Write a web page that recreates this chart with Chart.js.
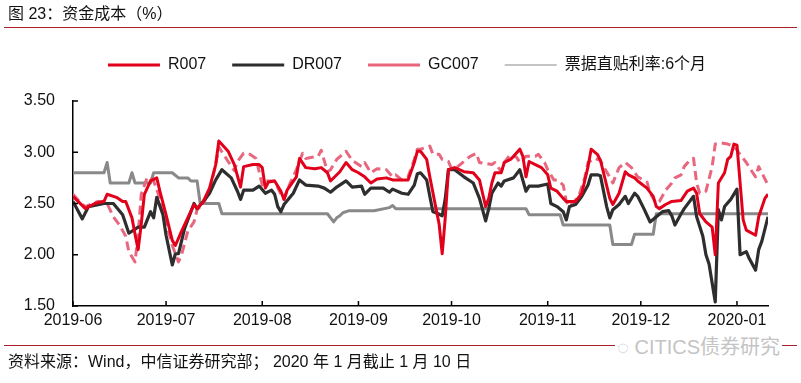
<!DOCTYPE html>
<html><head><meta charset="utf-8">
<script src="https://cdn.jsdelivr.net/npm/chart.js@4/dist/chart.umd.min.js"></script>
<style>
html,body{margin:0;padding:0;background:#fff;}
#wrap{position:relative;width:801px;height:383px;overflow:hidden;font-family:"Liberation Sans","Noto Sans CJK SC",sans-serif;color:#111;}
#title{position:absolute;left:8px;top:5px;font-size:16px;line-height:18px;white-space:nowrap;}
#tline{position:absolute;left:4px;width:793px;top:27px;height:0;border-top:1.5px solid #a8212b;}
#fline{position:absolute;left:4px;width:793px;top:345px;height:0;border-top:1.5px solid #a8212b;}
#foot{position:absolute;left:8px;top:353px;font-size:16px;line-height:18px;white-space:nowrap;}
#wm{position:absolute;left:615px;top:336px;font-size:20px;line-height:22px;color:#c4c4c4;background:#fff;padding:0 2px;white-space:nowrap;}
#c{position:absolute;left:0;top:0;}
</style></head>
<body>
<div id="wrap">
<canvas id="c" width="801" height="383"></canvas>
<div id="title">图 23：资金成本（%）</div>
<div id="tline"></div>
<div id="fline"></div>
<div id="wm">◌ CITICS债券研究</div>
<div id="foot">资料来源：Wind，中信证券研究部； 2020 年 1 月截止 1 月 10 日</div>
</div>
<script>
const seriesNames = ['R007','DR007','GC007','票据直贴利率:6个月'];
const monthTicks = ['2019-06','2019-07','2019-08','2019-09','2019-10','2019-11','2019-12','2020-01'];
const yTicks = [1.5,2.0,2.5,3.0,3.5];

const r007Dates = ['2019-06-01','2019-06-05','2019-06-08','2019-06-11','2019-06-12','2019-06-15','2019-06-17','2019-06-18','2019-06-20','2019-06-21','2019-06-22','2019-06-23','2019-06-24','2019-06-26','2019-06-28','2019-06-29','2019-07-01','2019-07-03','2019-07-04','2019-07-06','2019-07-08','2019-07-10','2019-07-11','2019-07-13','2019-07-15','2019-07-17','2019-07-18','2019-07-21','2019-07-23','2019-07-25','2019-07-26','2019-07-29','2019-07-31','2019-08-01','2019-08-02','2019-08-03','2019-08-05','2019-08-07','2019-08-08','2019-08-09','2019-08-12','2019-08-13','2019-08-15','2019-08-18','2019-08-20','2019-08-22','2019-08-23','2019-08-26','2019-08-28','2019-08-30','2019-09-01','2019-09-03','2019-09-05','2019-09-07','2019-09-10','2019-09-12','2019-09-14','2019-09-17','2019-09-19','2019-09-20','2019-09-21','2019-09-23','2019-09-24','2019-09-26','2019-09-27','2019-09-28','2019-09-29','2019-09-30','2019-10-02','2019-10-05','2019-10-08','2019-10-10','2019-10-11','2019-10-12','2019-10-13','2019-10-14','2019-10-15','2019-10-17','2019-10-18','2019-10-20','2019-10-21','2019-10-23','2019-10-24','2019-10-25','2019-10-26','2019-10-28','2019-10-30','2019-11-01','2019-11-02','2019-11-04','2019-11-06','2019-11-07','2019-11-10','2019-11-12','2019-11-14','2019-11-15','2019-11-17','2019-11-18','2019-11-19','2019-11-21','2019-11-22','2019-11-24','2019-11-26','2019-11-27','2019-11-29','2019-11-30','2019-12-03','2019-12-05','2019-12-06','2019-12-07','2019-12-09','2019-12-11','2019-12-14','2019-12-16','2019-12-18','2019-12-19','2019-12-20','2019-12-22','2019-12-24','2019-12-25','2019-12-26','2019-12-28','2019-12-29','2019-12-30','2019-12-31','2020-01-01','2020-01-03','2020-01-04','2020-01-07','2020-01-08','2020-01-10','2020-01-11'];
const r007Values = [2.57,2.45,2.50,2.52,2.59,2.56,2.52,2.52,2.36,2.20,2.05,2.30,2.59,2.72,2.75,2.62,2.39,2.14,2.09,2.23,2.36,2.49,2.45,2.52,2.65,2.88,3.11,3.01,2.88,2.66,2.86,2.88,2.88,2.85,2.65,2.71,2.72,2.62,2.54,2.63,2.76,2.94,2.85,2.84,2.85,2.80,2.72,2.81,2.90,2.83,2.80,2.76,2.70,2.74,2.75,2.73,2.73,2.73,2.90,3.01,3.01,2.93,2.76,2.45,2.30,2.01,2.37,2.83,2.85,2.81,2.80,2.73,2.60,2.47,2.55,2.70,2.80,2.80,2.90,2.93,2.96,3.03,2.96,2.76,2.91,2.88,2.85,2.78,2.65,2.62,2.55,2.52,2.52,2.60,2.86,3.03,2.98,2.92,2.80,2.55,2.49,2.60,2.81,2.78,2.75,2.72,2.65,2.57,2.47,2.45,2.49,2.52,2.53,2.62,2.65,2.60,2.40,2.32,2.27,2.00,2.70,2.80,2.93,2.96,3.08,3.07,2.34,2.24,2.19,2.37,2.55,2.59];

const dr007Dates = ['2019-06-01','2019-06-04','2019-06-06','2019-06-11','2019-06-14','2019-06-17','2019-06-19','2019-06-22','2019-06-24','2019-06-26','2019-06-27','2019-06-28','2019-06-30','2019-07-01','2019-07-03','2019-07-04','2019-07-05','2019-07-07','2019-07-10','2019-07-11','2019-07-13','2019-07-15','2019-07-17','2019-07-19','2019-07-22','2019-07-24','2019-07-25','2019-07-26','2019-07-29','2019-07-31','2019-08-02','2019-08-04','2019-08-05','2019-08-06','2019-08-07','2019-08-08','2019-08-11','2019-08-13','2019-08-15','2019-08-19','2019-08-21','2019-08-23','2019-08-25','2019-08-28','2019-08-30','2019-09-02','2019-09-03','2019-09-05','2019-09-09','2019-09-11','2019-09-12','2019-09-15','2019-09-17','2019-09-19','2019-09-20','2019-09-21','2019-09-23','2019-09-24','2019-09-25','2019-09-26','2019-09-28','2019-09-29','2019-09-30','2019-10-02','2019-10-05','2019-10-08','2019-10-10','2019-10-11','2019-10-12','2019-10-13','2019-10-14','2019-10-16','2019-10-17','2019-10-18','2019-10-21','2019-10-23','2019-10-25','2019-10-26','2019-10-29','2019-11-01','2019-11-02','2019-11-04','2019-11-06','2019-11-07','2019-11-08','2019-11-10','2019-11-12','2019-11-14','2019-11-15','2019-11-17','2019-11-18','2019-11-20','2019-11-21','2019-11-22','2019-11-24','2019-11-26','2019-11-27','2019-11-29','2019-11-30','2019-12-02','2019-12-04','2019-12-06','2019-12-08','2019-12-10','2019-12-11','2019-12-12','2019-12-14','2019-12-15','2019-12-18','2019-12-19','2019-12-21','2019-12-22','2019-12-23','2019-12-25','2019-12-26','2019-12-27','2019-12-28','2019-12-30','2020-01-01','2020-01-02','2020-01-04','2020-01-05','2020-01-07','2020-01-08','2020-01-09','2020-01-11'];
const dr007Values = [2.52,2.35,2.47,2.50,2.50,2.39,2.21,2.27,2.27,2.42,2.36,2.56,2.39,2.19,1.90,2.01,2.01,2.26,2.50,2.45,2.52,2.60,2.73,2.83,2.75,2.62,2.54,2.63,2.63,2.67,2.60,2.63,2.59,2.47,2.42,2.49,2.60,2.73,2.68,2.67,2.65,2.61,2.66,2.72,2.66,2.67,2.59,2.65,2.65,2.61,2.64,2.60,2.59,2.68,2.79,2.80,2.73,2.57,2.42,2.41,2.38,2.55,2.83,2.83,2.76,2.70,2.55,2.44,2.33,2.45,2.60,2.70,2.67,2.72,2.75,2.83,2.62,2.67,2.67,2.69,2.50,2.47,2.42,2.34,2.47,2.49,2.57,2.68,2.78,2.78,2.77,2.47,2.36,2.44,2.49,2.57,2.50,2.60,2.57,2.45,2.32,2.37,2.42,2.43,2.38,2.29,2.40,2.45,2.57,2.37,2.18,2.00,1.91,1.54,2.44,2.34,2.47,2.54,2.64,2.00,2.03,1.96,1.85,2.05,2.13,2.37];

const gc007Dates = ['2019-06-01','2019-06-03','2019-06-05','2019-06-09','2019-06-11','2019-06-12','2019-06-14','2019-06-16','2019-06-18','2019-06-19','2019-06-21','2019-06-22','2019-06-23','2019-06-25','2019-06-27','2019-06-29','2019-07-01','2019-07-03','2019-07-05','2019-07-06','2019-07-08','2019-07-10','2019-07-11','2019-07-13','2019-07-15','2019-07-17','2019-07-18','2019-07-21','2019-07-23','2019-07-24','2019-07-26','2019-07-28','2019-07-30','2019-08-01','2019-08-02','2019-08-05','2019-08-07','2019-08-08','2019-08-10','2019-08-12','2019-08-14','2019-08-15','2019-08-19','2019-08-20','2019-08-22','2019-08-23','2019-08-25','2019-08-28','2019-08-30','2019-09-02','2019-09-03','2019-09-05','2019-09-07','2019-09-10','2019-09-12','2019-09-13','2019-09-15','2019-09-17','2019-09-19','2019-09-20','2019-09-21','2019-09-24','2019-09-25','2019-09-27','2019-09-28','2019-09-30','2019-10-01','2019-10-03','2019-10-05','2019-10-07','2019-10-09','2019-10-10','2019-10-14','2019-10-15','2019-10-17','2019-10-18','2019-10-20','2019-10-22','2019-10-23','2019-10-24','2019-10-25','2019-10-28','2019-10-29','2019-10-31','2019-11-01','2019-11-03','2019-11-04','2019-11-06','2019-11-07','2019-11-08','2019-11-11','2019-11-13','2019-11-14','2019-11-16','2019-11-18','2019-11-19','2019-11-20','2019-11-22','2019-11-24','2019-11-26','2019-11-28','2019-11-30','2019-12-03','2019-12-04','2019-12-06','2019-12-07','2019-12-09','2019-12-11','2019-12-12','2019-12-14','2019-12-15','2019-12-17','2019-12-18','2019-12-19','2019-12-20','2019-12-22','2019-12-24','2019-12-25','2019-12-27','2019-12-29','2019-12-31','2020-01-02','2020-01-04','2020-01-05','2020-01-07','2020-01-08','2020-01-09','2020-01-11'];
const gc007Values = [2.59,2.52,2.47,2.52,2.52,2.50,2.37,2.29,2.18,2.03,1.93,2.20,2.59,2.76,2.72,2.55,2.32,2.09,1.93,2.00,2.23,2.32,2.44,2.50,2.62,2.88,3.05,2.91,2.82,2.91,2.99,2.98,2.94,2.68,2.72,2.72,2.59,2.54,2.70,2.83,2.99,2.94,2.96,3.02,2.81,2.83,2.93,3.01,2.92,2.86,2.90,2.80,2.84,2.83,2.76,2.78,2.73,2.76,2.93,3.03,3.03,3.06,2.98,2.98,2.93,2.91,2.84,2.86,2.91,2.96,2.99,2.90,2.88,2.90,2.81,2.90,2.98,2.95,2.90,2.93,2.96,2.96,2.98,2.90,2.83,2.73,2.73,2.68,2.52,2.47,2.57,2.76,2.90,2.94,2.92,2.86,2.81,2.70,2.85,2.90,2.85,2.76,2.71,2.60,2.50,2.52,2.63,2.70,2.75,2.78,2.86,2.93,2.94,2.70,2.60,2.62,2.86,3.08,3.09,3.08,3.06,2.98,2.90,2.85,2.76,2.86,2.80,2.68];

const billDates = ['2019-06-01','2019-06-11','2019-06-12','2019-06-13','2019-06-19','2019-06-20','2019-06-21','2019-06-26','2019-06-27','2019-07-03','2019-07-05','2019-07-08','2019-07-09','2019-07-11','2019-07-12','2019-07-18','2019-07-19','2019-08-22','2019-08-24','2019-08-25','2019-08-26','2019-08-27','2019-08-29','2019-09-06','2019-09-11','2019-09-12','2019-09-13','2019-10-25','2019-10-26','2019-11-05','2019-11-06','2019-11-21','2019-11-22','2019-11-28','2019-11-29','2019-12-05','2019-12-06','2020-01-11'];
const billValues = [2.80,2.80,2.90,2.70,2.70,2.80,2.70,2.70,2.80,2.80,2.75,2.75,2.72,2.72,2.50,2.50,2.40,2.40,2.32,2.36,2.38,2.41,2.43,2.43,2.46,2.48,2.45,2.45,2.39,2.39,2.29,2.29,2.10,2.10,2.20,2.20,2.40,2.40];

const ORIGIN = Date.UTC(2019, 5, 1);
const toDay = s => { const p = s.split('-').map(Number); return (Date.UTC(p[0], p[1]-1, p[2] || 1) - ORIGIN) / 86400000; };
const pts = (d, v) => d.map((s, i) => ({x: toDay(s), y: v[i]}));
const tickDays = monthTicks.map(toDay);

const FONT = '"Liberation Sans","Noto Sans CJK SC",sans-serif';

const inwardTicks = {
  id: 'inwardTicks',
  afterLayout(chart) {
    const lg = chart.legend;
    if (lg) { lg.left += 23; lg.right += 23; lg.top -= 18; lg.bottom -= 18; }
  },
  afterDraw(chart) {
    const {ctx, chartArea: a, scales: {x, y}} = chart;
    ctx.save();
    ctx.strokeStyle = '#000';
    ctx.lineWidth = 1.5;
    ctx.beginPath();
    x.ticks.forEach(t => { const px = x.getPixelForValue(t.value); ctx.moveTo(px, a.bottom); ctx.lineTo(px, a.bottom - 5); });
    y.ticks.forEach(t => { const py = y.getPixelForValue(t.value); ctx.moveTo(a.left, py); ctx.lineTo(a.left + 5, py); });
    ctx.stroke();
    ctx.restore();
  }
};

new Chart(document.getElementById('c'), {
  type: 'line',
  data: {
    datasets: [
      {label: seriesNames[0], data: pts(r007Dates, r007Values), borderColor: '#e2001a', borderWidth: 3},
      {label: seriesNames[1], data: pts(dr007Dates, dr007Values), borderColor: '#2e2e2e', borderWidth: 3.2},
      {label: seriesNames[2], data: pts(gc007Dates, gc007Values), borderColor: '#e8677f', borderWidth: 3, borderDash: [9, 5]},
      {label: seriesNames[3], data: pts(billDates, billValues), borderColor: '#898989', borderWidth: 3}
    ]
  },
  options: {
    responsive: false,
    animation: false,
    events: [],
    elements: {point: {radius: 0}, line: {tension: 0, borderJoinStyle: 'round'}},
    layout: {padding: {left: 0, right: 33, top: 49, bottom: 47}},
    plugins: {
      tooltip: {enabled: false},
      legend: {
        position: 'top',
        labels: {
          usePointStyle: true,
          pointStyle: 'line',
          pointStyleWidth: 52,
          boxWidth: 52,
          padding: 26,
          color: '#111',
          font: {family: FONT, size: 16},
          generateLabels(chart) {
            const items = Chart.defaults.plugins.legend.labels.generateLabels(chart);
            items.forEach(it => { it.pointStyle = 'line'; });
            items[3].lineWidth = 1.2;
            return items;
          }
        }
      }
    },
    scales: {
      x: {
        type: 'linear',
        min: 0,
        max: 224,
        afterBuildTicks: s => { s.ticks = tickDays.map(v => ({value: v})); },
        afterFit: s => { s.height = 30; },
        ticks: {
          autoSkip: false, maxRotation: 0, padding: 5, color: '#111',
          font: {family: FONT, size: 16},
          callback: v => monthTicks[tickDays.indexOf(v)]
        },
        grid: {display: false, drawTicks: false},
        border: {display: true, color: '#000', width: 1.5}
      },
      y: {
        min: 1.5,
        max: 3.5,
        afterBuildTicks: s => { s.ticks = yTicks.map(v => ({value: v})); },
        afterFit: s => { s.width = 73; },
        ticks: {padding: 18, color: '#111', font: {family: FONT, size: 16}, callback: v => v.toFixed(2)},
        grid: {display: false, drawTicks: false},
        border: {display: true, color: '#000', width: 1.5}
      }
    }
  },
  plugins: [inwardTicks]
});
</script>
</body></html>
